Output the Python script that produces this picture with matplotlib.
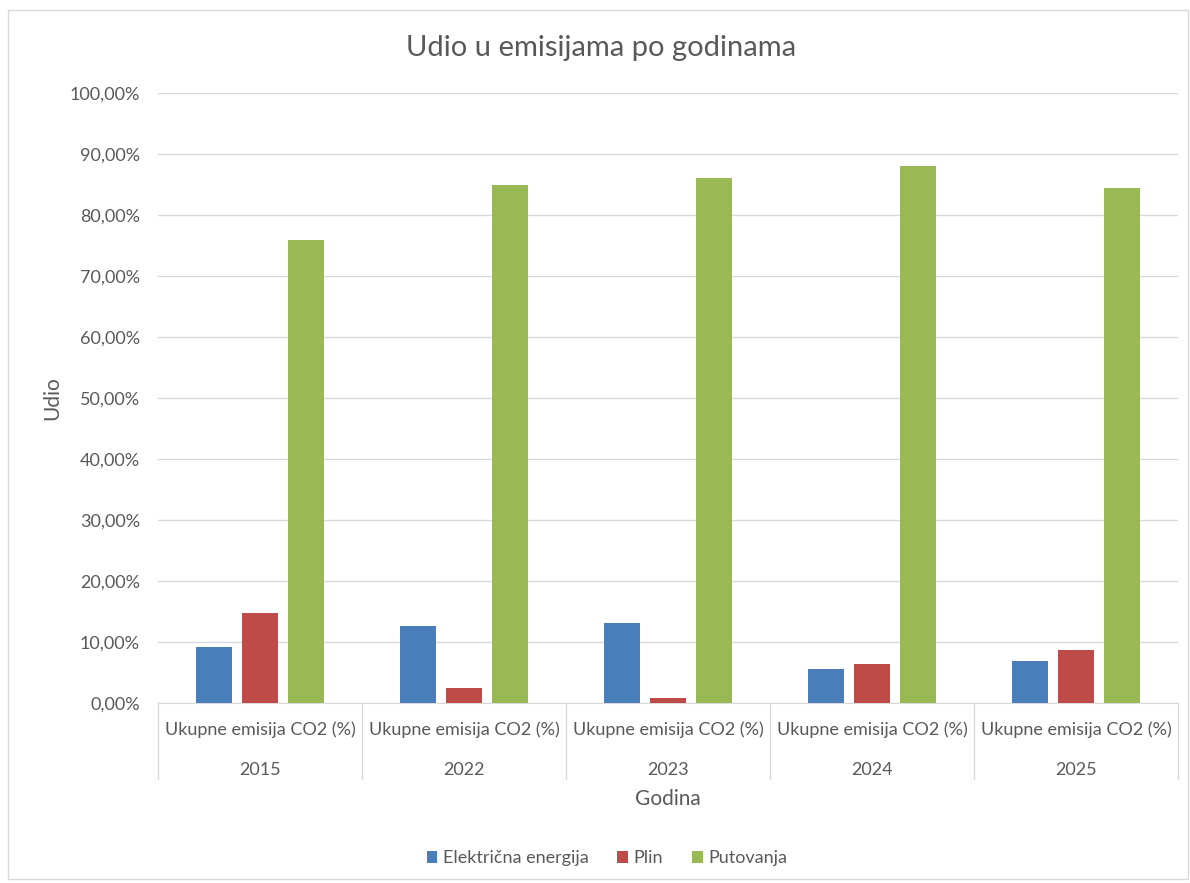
import matplotlib.pyplot as plt
import matplotlib.transforms as mtransforms
from matplotlib.patches import Rectangle
from matplotlib.ticker import FuncFormatter
import numpy as np

plt.rcParams['font.family'] = ['Lato', 'DejaVu Sans']

godine = ['2015', '2022', '2023', '2024', '2025']
kategorija = 'Ukupne emisija CO2 (%)'
elektricna = [9.2, 12.6, 13.1, 5.6, 6.9]
plin = [14.8, 2.5, 0.8, 6.4, 8.7]
putovanja = [75.9, 84.9, 86.1, 88.0, 84.4]

serije = ['Električna energija', 'Plin', 'Putovanja']
boje = ['#4a7ebb', '#be4b48', '#98b954']

fig = plt.figure(figsize=(11.9, 8.83), dpi=100)
fig.patches.append(Rectangle((0.007, 0.004), 0.991, 0.985, transform=fig.transFigure,
                             fill=False, edgecolor='#d9d9d9', linewidth=1))
ax = fig.add_axes([0.1328, 0.2038, 0.8572, 0.6909])

x = np.arange(len(godine))
w = 0.176
step = 0.225
for i, (vals, name) in enumerate(zip([elektricna, plin, putovanja], serije)):
    ax.bar(x + (i - 1) * step, vals, w, color=boje[i], label=name, zorder=3)

ax.set_xlim(-0.5, len(godine) - 0.5)
ax.set_ylim(0, 100)
ax.set_yticks(np.arange(0, 101, 10))
ax.yaxis.set_major_formatter(FuncFormatter(lambda v, p: f'{v:.2f}%'.replace('.', ',')))
ax.tick_params(axis='y', length=0, labelsize=13, labelcolor='#595959', pad=13)
ax.set_xticks([])
ax.grid(axis='y', color='#d9d9d9', linewidth=1, zorder=0)
for s in ['top', 'right', 'left']:
    ax.spines[s].set_visible(False)
ax.spines['bottom'].set_color('#d9d9d9')

trans = mtransforms.blended_transform_factory(ax.transData, ax.transAxes)
for b in np.arange(-0.5, len(godine), 1.0):
    ax.plot([b, b], [0, -0.125], color='#d9d9d9', linewidth=1, transform=trans, clip_on=False)
for i, g in enumerate(godine):
    ax.text(i, -0.043, kategorija, transform=trans, ha='center', va='center',
            fontsize=13, color='#595959')
    ax.text(i, -0.109, g, transform=trans, ha='center', va='center',
            fontsize=13, color='#595959')

ax.text(0.5, -0.158, 'Godina', transform=ax.transAxes, ha='center', va='center',
        fontsize=15, color='#595959')
ax.set_ylabel('Udio', fontsize=15, color='#595959', labelpad=5)
fig.text(0.505, 0.946, 'Udio u emisijama po godinama', ha='center', va='center',
         fontsize=21, color='#595959')

leg = fig.legend(loc='center', bbox_to_anchor=(0.51, 0.028), ncol=3, frameon=False,
                 fontsize=13, handlelength=0.6, handleheight=0.6, handletextpad=0.3,
                 columnspacing=1.6)
for t in leg.get_texts():
    t.set_color('#595959')

fig.savefig('out.png', dpi=100)
